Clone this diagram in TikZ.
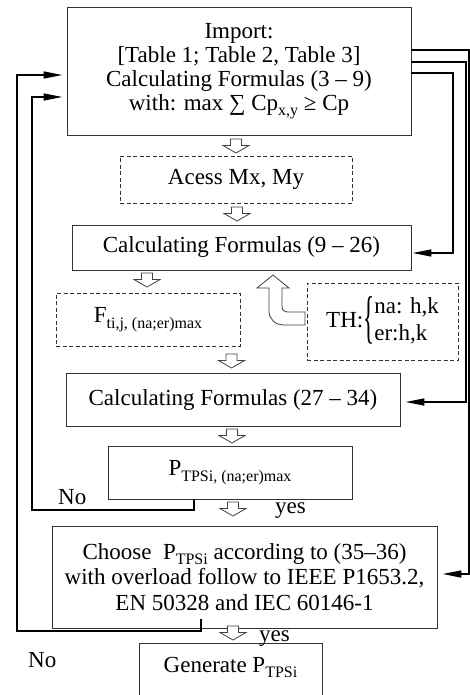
\documentclass[tikz,border=0pt]{standalone}
\usepackage{fontspec}
\setmainfont{Liberation Serif}
\usetikzlibrary{arrows.meta,calc}
\newcommand\lsub[1]{\raisebox{-0.24em}{\fontsize{16}{16}\selectfont #1}}
\begin{document}
\begin{tikzpicture}[x=1pt,y=-1pt,
  box/.style={draw=black!80, line width=0.9pt, align=center, inner sep=0pt,
    font=\fontsize{23}{24}\selectfont},
  dbox/.style={box, dash pattern=on 4pt off 2.5pt},
  conn/.style={line width=1.6pt, black},
  arr/.style={conn, -{Triangle[length=19pt,width=7pt]}},
  lbl/.style={font=\fontsize{23}{24}\selectfont, inner sep=0pt},
  hollow/.style={draw=black!75, line width=0.8pt, fill=white},
  hdown/.pic={\draw[hollow] (-5.5,0) -- (5.5,0) -- (5.5,6.5) -- (13,6.5) -- (0,14) -- (-13,6.5) -- (-5.5,6.5) -- cycle;}
]
\useasboundingbox (0,0) rectangle (470,695);

% boxes
\node[box, minimum width=344pt, minimum height=128pt] (imp) at (239,71)
  {Import:\\ {[}Table 1; Table 2, Table 3{]}\\ Calculating Formulas (3 – 9)\\ with: max ∑ Cp\lsub{x,y} ≥ Cp};
\node[dbox, minimum width=232pt, minimum height=47pt] (acc) at (236,179.5) {Acess Mx, My};
\node[box, minimum width=339pt, minimum height=45pt] (c1) at (241.5,247.5) {Calculating Formulas (9 – 26)};
\node[dbox, minimum width=184pt, minimum height=53pt] (F) at (148,319.5) {F\lsub{ti,j, (na;er)max}};
\node[dbox, minimum width=151pt, minimum height=77pt] (TH) at (382.5,321.5)
  {TH:\raisebox{-0.375em}{\scalebox{1}[2.5]{\{}}\renewcommand\arraystretch{1.12}\begin{tabular}{@{}l@{}}na: h,k\\ er:h,k\end{tabular}};
\node[box, minimum width=334pt, minimum height=53pt] (c2) at (233,399.5) {Calculating Formulas (27 – 34)};
\node[box, minimum width=244pt, minimum height=53pt] (P) at (230,472.5) {P\lsub{TPSi, (na;er)max}};
\node[box, minimum width=385pt, minimum height=102pt, font=\fontsize{23}{25.5}\selectfont] (ch) at (244.5,577)
  {Choose \ P\lsub{TPSi} according to (35–36)\\ with overload follow to IEEE P1653.2,\\ EN 50328 and IEC 60146-1};
\node[box, minimum width=183pt, inner ysep=0pt, text height=29pt, text depth=45pt, anchor=north] (gen) at (230.5,643)
  {Generate P\lsub{TPSi}};

% labels
\node[lbl, anchor=base west] (no1) at (58,504) {No};
\node[lbl, anchor=base west] (yes1) at (275,513) {yes};
\node[lbl, anchor=base west] (yes2) at (259,641) {yes};
\node[lbl, anchor=base west] (no2) at (28,667) {No};

% right-hand connectors
\coordinate (ra) at (469,50);
\coordinate (rb) at (466,62);
\coordinate (rc) at (453,73);
\draw[arr, shorten >=5pt] (imp.east |- ra) -- (ra) -- (469,574) -- (ch.east |- 0,574);
\draw[arr, shorten >=5pt] (imp.east |- rb) -- (rb) -- (466,402) -- (c2.east |- 0,402);
\draw[arr, shorten >=1pt] (imp.east |- rc) -- (rc) -- (453,253) -- (c1.east |- 0,253);

% left-hand feedback connectors
\coordinate (nb) at (201,619);
\draw[arr, shorten >=4pt] (nb) -- (201,631) -- (17,631) -- (17,75) -- (imp.west |- 0,75);
\draw[arr, shorten >=4pt] (P.south -| 194,0) -- (194,510) -- (32,510) -- (32,97) -- (imp.west |- 0,97);

% hollow flow arrows
\pic at (236,139) {hdown};
\pic at (237,207) {hdown};
\pic at (147,273) {hdown};
\pic at (231.5,354) {hdown};
\pic at (232,429) {hdown};
\pic at (233,502) {hdown};
\pic at (233,626) {hdown};

% U-turn hollow arrow from TH up to c1
\draw[hollow] (305,325) -- (284,325) .. controls (275,325) and (269,319) .. (269,311)
  -- (269,288) -- (257,288) -- (273,275) -- (289,288) -- (282,288) -- (282,306)
  .. controls (282,310) and (284,312) .. (288,312) -- (305,312) -- cycle;
\end{tikzpicture}
\end{document}
